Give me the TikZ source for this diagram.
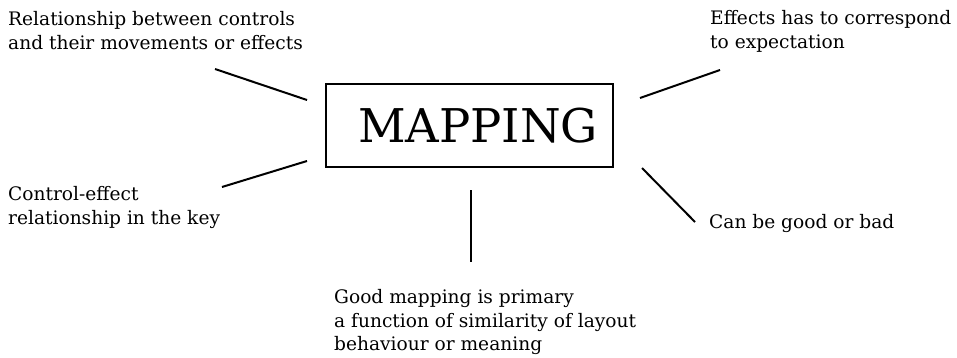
\documentclass[tikz,border=0pt]{standalone}
\usepackage{fontspec}
\setmainfont{DejaVu Serif}
\begin{document}
\begin{tikzpicture}[x=1pt,y=-1pt,
  note/.style={anchor=north west,align=left,inner sep=0pt,
    font=\fontsize{18.6}{23.2}\selectfont},
  link/.style={line width=2pt},
  hub/.style={draw,line width=2pt,minimum width=287pt,minimum height=83pt,
    inner sep=0pt,font=\fontsize{46.5}{52}\selectfont}]
  \useasboundingbox (0,0) rectangle (957,358);

  % central concept, lettering set slightly right of centre
  \node[hub] (map) at (469.5,125.5) {\hspace*{17pt}MAPPING};

  % surrounding notes
  \node[note] (rel) at (8,11.6) {Relationship between controls\\and their movements or effects};
  \node[note] (exp) at (710,10.6) {Effects has to correspond\\to expectation};
  \node[note] (key) at (8,186.6) {Control-effect\\relationship in the key};
  \node[note] (gb)  at (709,214.6) {Can be good or bad};
  \node[note] (lay) at (334,289.6) {Good mapping is primary\\a function of similarity of layout\\behaviour or meaning};

  % connector ends
  \coordinate (relA) at (215,69);  \coordinate (relB) at (307,100);
  \coordinate (keyA) at (222,187); \coordinate (keyB) at (307,161);
  \coordinate (layA) at (471,190); \coordinate (layB) at (471,262);
  \coordinate (expA) at (640,98);  \coordinate (expB) at (720,70);
  \coordinate (gbA)  at (642,168); \coordinate (gbB)  at (695,222);

  \draw[link] (relA) -- (relB);
  \draw[link] (keyA) -- (keyB);
  \draw[link] (layA) -- (layB);
  \draw[link] (expA) -- (expB);
  \draw[link] (gbA) -- (gbB);
\end{tikzpicture}
\end{document}
